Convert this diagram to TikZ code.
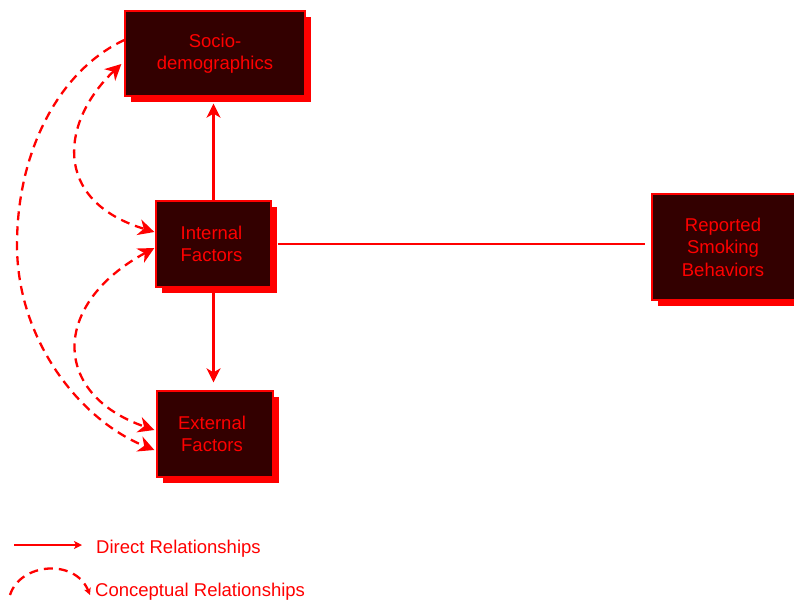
\documentclass[tikz,border=0pt]{standalone}
\usepackage{fontspec}
\setmainfont{Liberation Sans}
\usetikzlibrary{arrows.meta,shadows,calc}
\definecolor{boxfill}{HTML}{330000}
\begin{document}
\begin{tikzpicture}[x=1pt,y=-1pt,
  box/.style={draw=red, line width=1.3pt, fill=boxfill, text=red, align=center,
    font=\fontsize{18.5}{22.5}\selectfont, inner sep=0pt,
    drop shadow={shadow xshift=6pt, shadow yshift=-6pt, fill=red, opacity=1}},
  rel/.style={draw=red, line width=2.3pt},
  tip/.style={-{Stealth[length=14pt,width=14pt,inset=4pt]}},
  btip/.style={-{Stealth[length=16pt,width=16pt,inset=5pt]}},
  both/.style={{Stealth[length=16pt,width=16pt,inset=5pt]}-{Stealth[length=16pt,width=16pt,inset=5pt]}},
  concept/.style={rel, dash pattern=on 9pt off 6pt},
  lbl/.style={text=red, font=\fontsize{18.5}{22.5}\selectfont, anchor=west, inner sep=0pt}]
\useasboundingbox (0,0) rectangle (794,600);

\node[box, minimum width=180pt, minimum height=85pt] (socio) at (215,53.5) {Socio-\\demographics};
\node[box, minimum width=115pt, minimum height=86pt] (internal) at (213.5,244) {\hspace*{-4pt}\parbox{100pt}{\centering Internal\\Factors}};
\node[box, minimum width=116pt, minimum height=86pt] (external) at (215,434) {\hspace*{-6pt}\parbox{100pt}{\centering External\\Factors}};
\node[box, minimum width=145pt, minimum height=106pt] (reported) at (724.5,247) {\hspace*{-3pt}\parbox{130pt}{\centering Reported\\Smoking\\Behaviors}};

% direct relationships
\draw[rel,tip,shorten >=7pt] (internal.north) -- (internal.north |- socio.south);
\draw[rel,tip,shorten >=8pt] (internal.south) -- (internal.south |- external.north);
\draw[rel] ([xshift=6pt]internal.east) -- ([xshift=-6pt]internal.east -| reported.west);

% conceptual relationships
\draw[concept,btip] ([yshift=13.5pt]socio.west) .. controls (60,70) and (17,150) .. (17,245)
   .. controls (17,340) and (80,420) .. ([xshift=-2pt,yshift=-16pt]external.west);
\draw[concept,both] ([xshift=-3pt,yshift=-10.5pt]socio.west) .. controls (62,120) and (50,200) .. ([xshift=-1pt,yshift=12pt]internal.west);
\draw[concept,both] ([xshift=-1pt,yshift=-4pt]internal.west) .. controls (51,304) and (51,394) .. ([xshift=-2pt,yshift=4pt]external.west);

% legend
\coordinate (d1) at (14,545);
\coordinate (d2) at (82,545);
\draw[rel,-{Stealth[length=8pt,width=8pt,inset=2pt]}] (d1) -- (d2);
\node[lbl] (dlab) at (96,548.5) {Direct Relationships};
\coordinate (c1) at (10,595);
\coordinate (c2) at (90,595);
\draw[concept,-{Stealth[length=7pt,width=7pt,inset=2pt]}] (c1) .. controls (20,563) and (75,558) .. (c2);
\node[lbl] (clab) at (95,592) {Conceptual Relationships};
\end{tikzpicture}
\end{document}
